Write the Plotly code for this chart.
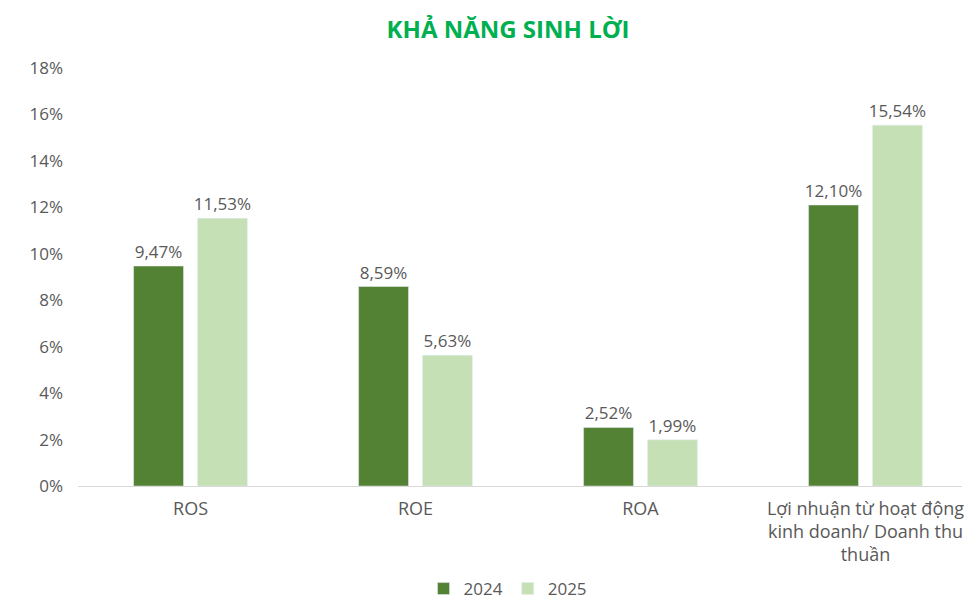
import plotly.graph_objects as go

categories = ["ROS", "ROE", "ROA", "Lợi nhuận từ hoạt động<br>kinh doanh/ Doanh thu<br>thuần"]
series_names = ["2024", "2025"]
values_2024 = [9.47, 8.59, 2.52, 12.10]
values_2025 = [11.53, 5.63, 1.99, 15.54]
tick_values = [0, 2, 4, 6, 8, 10, 12, 14, 16, 18]
tick_labels = [f"{v}%" for v in tick_values]
title_text = "KHẢ NĂNG SINH LỜI"

colors = ["#548235", "#C5E0B4"]
FONT = "Open Sans, Lato, sans-serif"
GREY = "#595959"

def fmt(v):
    return f"{v:.2f}".replace(".", ",") + "%"

fig = go.Figure()
for name, vals, col in zip(series_names, [values_2024, values_2025], colors):
    fig.add_trace(go.Bar(
        name=name, x=categories, y=vals, marker_color=col,
        text=[fmt(v) for v in vals], textposition="outside",
        textfont=dict(size=17, color=GREY, family=FONT),
        constraintext="none", cliponaxis=False,
    ))

fig.update_layout(
    width=964, height=599,
    margin=dict(l=78, r=0, t=68, b=113),
    plot_bgcolor="white", paper_bgcolor="white",
    barmode="group", bargap=0.432, bargroupgap=0.219,
    font=dict(family=FONT, color=GREY, size=16),
    title=dict(text=f"<b>{title_text}</b>", x=0.527, xref="container", xanchor="center",
               y=1 - 30 / 599, yref="container", yanchor="middle",
               font=dict(size=24, color="#00B050", family=FONT)),
    legend=dict(orientation="h", x=0.527, xref="container", xanchor="center",
                y=1 - 589 / 599, yref="container", yanchor="middle",
                font=dict(size=17, color=GREY), itemwidth=30, traceorder="normal"),
    showlegend=True,
)
fig.update_xaxes(range=[-0.5, 3.5 - 16 / 225.5], showline=True, linecolor="#D9D9D9", linewidth=1,
                 ticks="", tickfont=dict(size=18, color=GREY), showgrid=False,
                 ticklabelstandoff=6)
fig.update_yaxes(range=[0, 18], tickvals=tick_values, ticktext=tick_labels, showgrid=False,
                 zeroline=False, showline=False, ticks="", ticklen=0,
                 tickfont=dict(size=17, color=GREY), ticklabelstandoff=14)

fig.write_html("out.html")
